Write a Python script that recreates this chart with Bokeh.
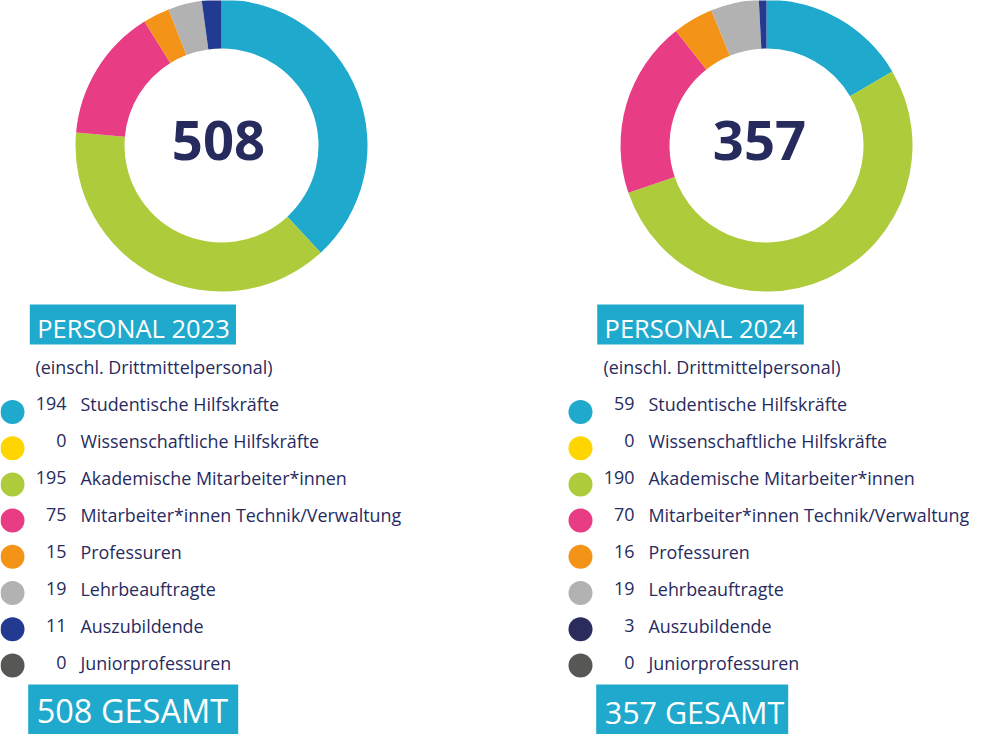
import math
from bokeh.plotting import figure
from bokeh.models import Range1d, ColumnDataSource
from bokeh.embed import file_html
from bokeh.resources import INLINE
from bokeh.core.properties import value

# ---------------- data ----------------
categories = [
    "Studentische Hilfskräfte",
    "Wissenschaftliche Hilfskräfte",
    "Akademische Mitarbeiter*innen",
    "Mitarbeiter*innen Technik/Verwaltung",
    "Professuren",
    "Lehrbeauftragte",
    "Auszubildende",
    "Juniorprofessuren",
]
values_2023 = [194, 0, 195, 75, 15, 19, 11, 0]
values_2024 = [59, 0, 190, 70, 16, 19, 3, 0]
totals = [508, 357]
years = ["2023", "2024"]
subtitle = "(einschl. Drittmittelpersonal)"

slice_colors = ["#1FA9CC", "#FFD500", "#AECB3B", "#E83C84", "#F39419", "#B2B2B2", "#223A8F", "#575756"]
legend_colors_2023 = slice_colors
legend_colors_2024 = ["#1FA9CC", "#FFD500", "#AECB3B", "#E83C84", "#F39419", "#B2B2B2", "#2A2C5E", "#575756"]

# ---------------- layout ----------------
PW, PH = 969, 734
FONT = "Open Sans"
TEXT_COL = "#272B5E"
BOX_COL = "#1FA9CC"


def Y(ry):
    return PH - ry


p = figure(width=PW, height=PH, x_range=Range1d(0, PW), y_range=Range1d(0, PH),
           output_backend="svg", toolbar_location=None, min_border=0)
p.axis.visible = False
p.grid.visible = False
p.outline_line_color = None
p.background_fill_color = "white"
p.border_fill_color = "white"

panels = [
    dict(vals=values_2023, lcols=legend_colors_2023, cx=221, legx=0, numx=218,
         head=(29.3, 235.5), gesamt=(27.7, 237.7), gfs="32.5px", gy=710),
    dict(vals=values_2024, lcols=legend_colors_2024, cx=766, legx=568, numx=759,
         head=(596.7, 803.3), gesamt=(595.7, 787.7), gfs="30.5px", gy=711),
]
CY = 145
R_OUT, R_IN = 146, 97
TXT0, TDY = 403, 37       # legend text cap centres
DOT0, DDY = 411.5, 36.2   # legend dot centres
LEG_FS = "17.9px"

for k, pan in enumerate(panels):
    vals = pan["vals"]
    tot = float(sum(vals))
    xs, ys, starts, ends, cols = [], [], [], [], []
    c = 0.0
    for v, col in zip(vals, slice_colors):
        a0 = math.pi / 2 - 2 * math.pi * c / tot
        c += v
        a1 = math.pi / 2 - 2 * math.pi * c / tot
        if v > 0:
            xs.append(pan["cx"]); ys.append(Y(CY))
            starts.append(a0); ends.append(a1); cols.append(col)
    src = ColumnDataSource(dict(x=xs, y=ys, s=starts, e=ends, color=cols))
    p.annular_wedge(x="x", y="y", inner_radius=R_IN, outer_radius=R_OUT,
                    start_angle="s", end_angle="e", direction="clock",
                    fill_color="color", line_color=None, source=src)

    # centre total
    p.text(x=[pan["numx"]], y=[Y(139.5)], text=[str(totals[k])], text_align="center",
           text_baseline="middle", text_font=value(FONT), text_font_style="bold",
           text_font_size="54.4px", text_color="#262A5C")

    lx = pan["legx"]
    h0, h1 = pan["head"]
    p.quad(left=[h0], right=[h1], top=[Y(304)], bottom=[Y(344)],
           fill_color=BOX_COL, line_color=None)
    p.text(x=[h0 + 7.4], y=[Y(327)], text=["PERSONAL " + years[k]], text_align="left",
           text_baseline="middle", text_font=value(FONT), text_font_size="25.5px",
           text_color="white")
    p.text(x=[lx + 35], y=[Y(366.8)], text=[subtitle], text_align="left",
           text_baseline="middle", text_font=value(FONT), text_font_size=LEG_FS,
           text_color=TEXT_COL)

    n = len(categories)
    ty = [Y(TXT0 + TDY * i) for i in range(n)]
    dots = ColumnDataSource(dict(x=[lx + 12] * n, y=[Y(DOT0 + DDY * i) for i in range(n)],
                                 color=pan["lcols"]))
    p.circle(x="x", y="y", radius=12, fill_color="color", line_color=None, source=dots)
    p.text(x=[lx + 66] * n, y=ty, text=[str(v) for v in vals], text_align="right",
           text_baseline="middle", text_font=value(FONT), text_font_size=LEG_FS,
           text_color=TEXT_COL)
    p.text(x=[lx + 80] * n, y=ty, text=categories, text_align="left",
           text_baseline="middle", text_font=value(FONT), text_font_size=LEG_FS,
           text_color=TEXT_COL)

    g0, g1 = pan["gesamt"]
    p.quad(left=[g0], right=[g1], top=[Y(684)], bottom=[Y(734)],
           fill_color=BOX_COL, line_color=None)
    p.text(x=[g0 + 8.5], y=[Y(pan["gy"])], text=[f"{totals[k]} GESAMT"], text_align="left",
           text_baseline="middle", text_font=value(FONT), text_font_size=pan["gfs"],
           text_color="white")

open("out.html", "w").write(file_html(p, INLINE))
